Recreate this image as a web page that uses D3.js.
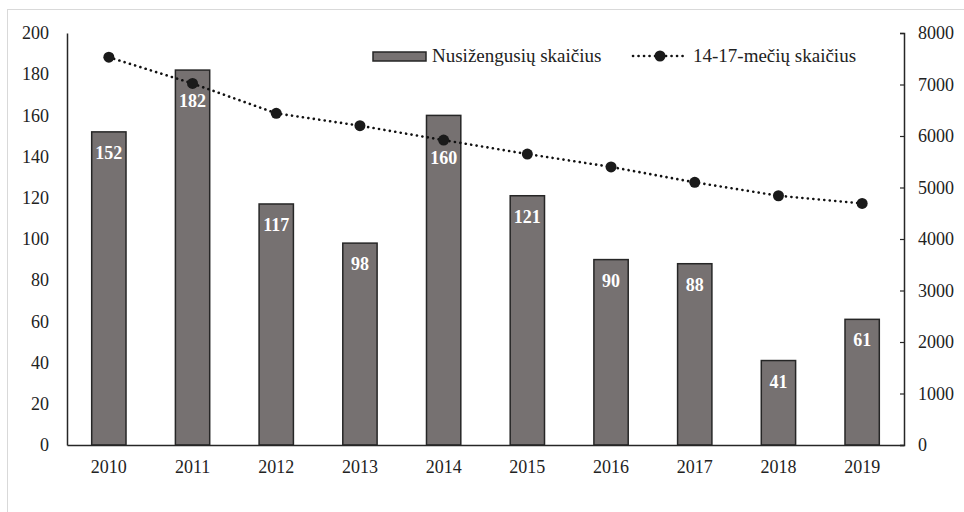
<!DOCTYPE html>
<html><head><meta charset="utf-8">
<script src="https://cdn.jsdelivr.net/npm/d3@7"></script>
<style>body{margin:0;background:#fff}svg{display:block}text{font-family:"Liberation Serif","Times New Roman",serif}</style>
</head><body><svg id="c" width="964" height="512"></svg>
<script>
const years = ["2010","2011","2012","2013","2014","2015","2016","2017","2018","2019"];
const offenders = [152,182,117,98,160,121,90,88,41,61];
const population = [7530,7020,6440,6200,5920,5650,5400,5100,4840,4690];
const leftTicks = [0,20,40,60,80,100,120,140,160,180,200];
const rightTicks = [0,1000,2000,3000,4000,5000,6000,7000,8000];
const barName = "Nusižengusių skaičius";
const lineName = "14-17-mečių skaičius";

const svg = d3.select("#c");
svg.append("rect").attr("x",7.5).attr("y",9.5).attr("width",970).attr("height",520)
  .attr("fill","#fff").attr("stroke","#d9d9d9").attr("stroke-width",1);

const L=67, R=904, T=33, B=445;
const x = d3.scaleBand().domain(years).range([L,R]).paddingInner(0.59).paddingOuter(0.295);
const yL = d3.scaleLinear().domain([0,200]).range([B,T]);
const yR = d3.scaleLinear().domain([0,8000]).range([B,T]);

// bars
svg.append("g").selectAll("rect").data(offenders).join("rect")
  .attr("x",(d,i)=>x(years[i])).attr("y",d=>yL(d))
  .attr("width",x.bandwidth()).attr("height",d=>B-yL(d))
  .attr("fill","#767171").attr("stroke","#262626").attr("stroke-width",1.5);

// axes
const gl = svg.append("g").attr("transform",`translate(${L},0)`)
  .call(d3.axisLeft(yL).tickValues(leftTicks).tickSize(0).tickPadding(18));
gl.select(".domain").attr("stroke","#262626").attr("stroke-width",1.5);
gl.selectAll("text").attr("font-size",18).attr("fill","#222");

const gr = svg.append("g").attr("transform",`translate(${R},0)`)
  .call(d3.axisRight(yR).tickValues(rightTicks).tickFormat(d3.format("d")).tickSize(-4).tickPadding(14));
gr.select(".domain").attr("stroke","#262626").attr("stroke-width",1.5);
gr.selectAll("line").attr("stroke","#262626").attr("stroke-width",1.2);
gr.selectAll("text").attr("font-size",18).attr("fill","#222");

const gb = svg.append("g").attr("transform",`translate(0,${B})`)
  .call(d3.axisBottom(x).tickSize(0).tickPadding(15));
gb.select(".domain").attr("stroke","#262626").attr("stroke-width",1.5);
gb.selectAll("text").attr("font-size",18).attr("fill","#222");

// line
const cx = (i)=>x(years[i])+x.bandwidth()/2;
const line = d3.line().x((d,i)=>cx(i)).y(d=>yR(d));
svg.append("path").datum(population).attr("d",line).attr("fill","none")
  .attr("stroke","#111").attr("stroke-width",2.6).attr("stroke-dasharray","0.1,5.4").attr("stroke-linecap","round");
svg.append("g").selectAll("circle").data(population).join("circle")
  .attr("cx",(d,i)=>cx(i)).attr("cy",d=>yR(d)).attr("r",5.5).attr("fill","#1a1a1a");

// bar labels (on top of line); moved below the marker when they would collide
function labelY(d,i){
  let base = yL(d)+27;
  const my = yR(population[i]);
  if (my+5.5 > base-15 && my-5.5 < base) base = my+24;
  return base;
}
svg.append("g").selectAll("text").data(offenders).join("text")
  .attr("x",(d,i)=>cx(i)).attr("y",(d,i)=>labelY(d,i))
  .attr("text-anchor","middle").attr("fill","#fff").attr("font-weight","bold").attr("font-size",18)
  .text(d=>d);

// legend
const lg = svg.append("g");
lg.append("rect").attr("x",373).attr("y",52).attr("width",53).attr("height",9)
  .attr("fill","#767171").attr("stroke","#262626").attr("stroke-width",1.5);
lg.append("text").attr("x",432).attr("y",62).attr("font-size",19).attr("fill","#222").text(barName);
lg.append("line").attr("x1",633).attr("x2",688).attr("y1",56).attr("y2",56)
  .attr("stroke","#111").attr("stroke-width",2.6).attr("stroke-dasharray","0.1,5.4").attr("stroke-linecap","round");
lg.append("circle").attr("cx",660).attr("cy",56).attr("r",5.5).attr("fill","#1a1a1a");
lg.append("text").attr("x",693).attr("y",62).attr("font-size",19).attr("fill","#222").text(lineName);
</script></body></html>
